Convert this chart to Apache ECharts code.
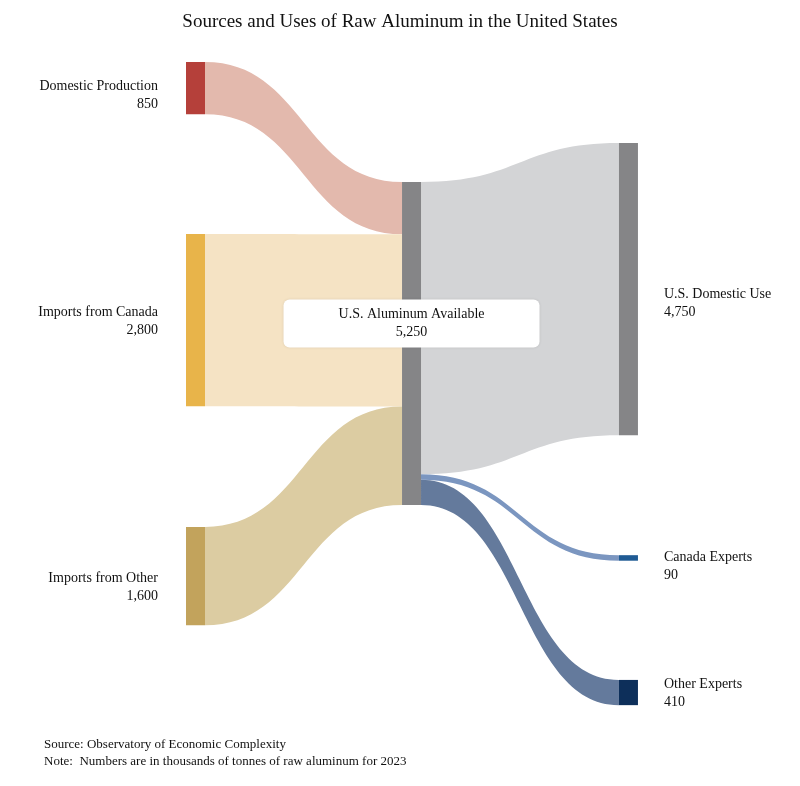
<!DOCTYPE html>
<html>
<head>
<meta charset="utf-8">
<script src="https://cdn.jsdelivr.net/npm/echarts@6/dist/echarts.min.js"></script>
<style>html,body{margin:0;background:#fff}#chart{width:800px;height:786px}</style>
</head>
<body>
<div id="chart"></div>
<script>
// data
var nodeNames = ['Domestic Production', 'Imports from Canada', 'Imports from Other',
                 'U.S. Aluminum Available', 'U.S. Domestic Use', 'Canada Experts', 'Other Experts'];
var nodeValues = [850, 2800, 1600, 5250, 4750, 90, 410];
var linkSources = [0, 1, 2, 3, 3, 3];
var linkTargets = [3, 3, 3, 4, 5, 6];
var linkValues = [850, 2800, 1600, 4750, 90, 410];

var nodeColors = ['#b5403a', '#e8b44a', '#c2a35c', '#858587', '#858587', '#1f5b94', '#0d2f5a'];
var linkColors = ['#e3b9ad', '#f5e3c4', '#dccca2', '#d3d4d6', '#7b96c0', '#647a9c'];
var nodeLocalX = [0, 0, 0, 0.479, 0.96, 0.96, 0.96];
var nodeLocalY = [0, 0.2675, 0.723, 0.1866, 0.126, 0.767, 0.961];
var labelShift = [7, 1, 11, -20, 14, 8, 1];
var font = 'Liberation Serif';

var nodes = nodeNames.map(function(n, i) {
    var col = nodeLocalX[i];
    var label = {
        formatter: n + '\n' + nodeValues[i].toLocaleString('en-US'),
        fontFamily: font, fontSize: 14, color: '#111', lineHeight: 18,
        offset: [0, labelShift[i]]
    };
    if (col === 0) { label.position = 'left'; label.align = 'right'; label.distance = 28; }
    else if (col > 0.9) { label.position = 'right'; label.align = 'left'; label.distance = 26; }
    else {
        label.position = 'inside'; label.align = 'center';
        label.backgroundColor = '#fff'; label.borderRadius = 6;
        label.width = 232; label.padding = [6, 12];
        label.shadowColor = 'rgba(0,0,0,0.1)'; label.shadowBlur = 3;
    }
    return {
        name: n, localX: nodeLocalX[i], localY: nodeLocalY[i],
        itemStyle: {color: nodeColors[i]}, label: label
    };
});
var links = linkValues.map(function(v, i) {
    return {
        source: nodeNames[linkSources[i]], target: nodeNames[linkTargets[i]], value: v,
        lineStyle: {color: linkColors[i], opacity: 1}
    };
});

var chart = echarts.init(document.getElementById('chart'));
chart.setOption({
    title: {
        text: 'Sources and Uses of Raw Aluminum in the United States',
        left: 'center', top: 8,
        textStyle: {fontFamily: font, fontSize: 19, fontWeight: 'normal', color: '#111'}
    },
    graphic: [{
        type: 'text', left: 44, top: 736,
        style: {
            text: 'Source: Observatory of Economic Complexity\nNote:  Numbers are in thousands of tonnes of raw aluminum for 2023',
            font: '13px "Liberation Serif"', fill: '#111', lineHeight: 17
        }
    }],
    series: [{
        type: 'sankey',
        left: 186, right: 163, top: 62, bottom: 81,
        nodeWidth: 19, nodeGap: 160,
        layoutIterations: 0,
        draggable: false,
        emphasis: {disabled: true},
        lineStyle: {curveness: 0.5},
        data: nodes,
        links: links
    }]
});
</script>
</body>
</html>
